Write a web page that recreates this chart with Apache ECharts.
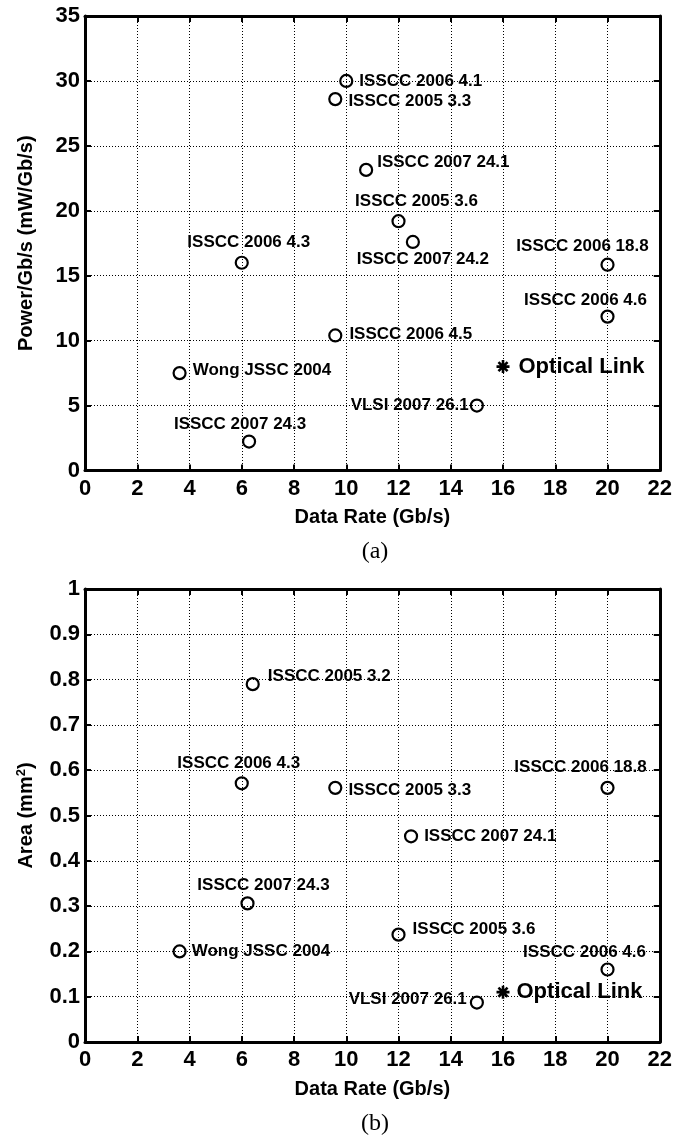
<!DOCTYPE html>
<html>
<head>
<meta charset="utf-8">
<script src="https://cdn.jsdelivr.net/npm/echarts@6/dist/echarts.min.js"></script>
<style>
html,body{margin:0;padding:0;background:#fff;}
#c{width:675px;height:1139px;}
</style>
</head>
<body>
<div id="c"></div>
<script>
// ---------- data ----------
var xTicks = [0, 2, 4, 6, 8, 10, 12, 14, 16, 18, 20, 22];

// (a) Power per Gb/s
var powerNames = ['ISSCC 2006 4.1', 'ISSCC 2005 3.3', 'ISSCC 2007 24.1', 'ISSCC 2005 3.6',
  'ISSCC 2007 24.2', 'ISSCC 2006 18.8', 'ISSCC 2006 4.3', 'ISSCC 2006 4.6',
  'ISSCC 2006 4.5', 'Wong JSSC 2004', 'ISSCC 2007 24.3', 'VLSI 2007 26.1'];
var powerRate = [10, 9.58, 10.76, 12, 12.55, 20, 6, 20, 9.58, 3.62, 6.28, 15];
var powerValue = [30, 28.6, 23.15, 19.2, 17.6, 15.85, 16, 11.85, 10.4, 7.5, 2.23, 5.0];
var powerOptical = [16, 8];

// (b) Area
var areaNames = ['ISSCC 2005 3.2', 'ISSCC 2006 4.3', 'ISSCC 2005 3.3', 'ISSCC 2006 18.8',
  'ISSCC 2007 24.1', 'ISSCC 2007 24.3', 'Wong JSSC 2004', 'ISSCC 2005 3.6',
  'ISSCC 2006 4.6', 'VLSI 2007 26.1'];
var areaRate = [6.42, 6, 9.58, 20, 12.48, 6.22, 3.62, 12, 20, 15];
var areaValue = [0.79, 0.571, 0.561, 0.561, 0.454, 0.306, 0.2, 0.237, 0.16, 0.087];
var areaOptical = [16, 0.11];

var opticalName = 'Optical Link';

// ---------- label placement (style, not data) ----------
var powerLabelPos = [
  ['right', 6, [0, 0]], ['right', 6, [0, 2]], ['right', 4, [0, -8]], ['top', 4, [18, 0]],
  ['bottom', 2, [10, 0]], ['top', 3, [-25, 0]], ['top', 5, [7, 0]], ['top', 1, [-22, 0]],
  ['right', 7, [0, -1]], ['right', 6, [0, -3]], ['top', 2, [-9, 0]], ['left', 1, [0, 0]]
];
var areaLabelPos = [
  ['right', 8, [0, -8]], ['top', 4, [-3, 0]], ['right', 6, [0, 2]], ['top', 5, [-27, 0]],
  ['right', 6, [0, 0]], ['top', 2, [16, 0]], ['right', 5, [0, 0]], ['right', 7, [0, -5]],
  ['top', 2, [-23, 0]], ['left', 3, [0, -3]]
];

var FONT = 'Liberation Sans, Arial, Helvetica, sans-serif';
var asteriskPath = 'path://M0,40L100,40L100,60L0,60Z M40,0L60,0L60,100L40,100Z ' +
  'M8,22L22,8L92,78L78,92Z M78,8L92,22L22,92L8,78Z';

function buildPoints(names, xs, ys, pos) {
  return names.map(function (n, i) {
    return {
      name: n,
      value: [xs[i], ys[i]],
      label: { position: pos[i][0], distance: pos[i][1], offset: pos[i][2] }
    };
  });
}

var grids = [
  { left: 85, right: 15, top: 16, height: 454.5 },
  { left: 85, right: 15, top: 589, height: 453 }
];

function xAxes(gi, nameText) {
  return [
    {
      type: 'value', gridIndex: gi, position: 'bottom', min: 0, max: 22, interval: 2,
      name: nameText, nameLocation: 'middle', nameGap: 37,
      nameTextStyle: { fontFamily: FONT, fontWeight: 'bold', fontSize: 20, color: '#000' },
      axisLine: { show: true, onZero: false, lineStyle: { color: '#000', width: 3 } },
      axisTick: { show: true, inside: true, length: 6, lineStyle: { color: '#000', width: 2 } },
      axisLabel: { show: true, margin: 7, fontFamily: FONT, fontWeight: 'bold', fontSize: 22, color: '#000' },
      splitLine: { show: true, lineStyle: { color: '#000', width: 1, type: [1, 2] } }
    },
    {
      type: 'value', gridIndex: gi, position: 'top', min: 0, max: 22, interval: 2,
      axisLine: { show: true, onZero: false, lineStyle: { color: '#000', width: 3 } },
      axisTick: { show: true, inside: true, length: 6, lineStyle: { color: '#000', width: 2 } },
      axisLabel: { show: false },
      splitLine: { show: false }
    }
  ];
}

function yAxes(gi, max, interval, nameText, rich) {
  return [
    {
      type: 'value', gridIndex: gi, position: 'left', min: 0, max: max, interval: interval,
      name: nameText, nameLocation: 'middle', nameGap: 48,
      nameTextStyle: { fontFamily: FONT, fontWeight: 'bold', fontSize: 20, color: '#000', lineHeight: 22, rich: rich },
      axisLine: { show: true, onZero: false, lineStyle: { color: '#000', width: 3 } },
      axisTick: { show: true, inside: true, length: 6, lineStyle: { color: '#000', width: 2 } },
      axisLabel: { show: true, margin: 5, fontFamily: FONT, fontWeight: 'bold', fontSize: 22, color: '#000' },
      splitLine: { show: true, lineStyle: { color: '#000', width: 1, type: [1, 2] } }
    },
    {
      type: 'value', gridIndex: gi, position: 'right', min: 0, max: max, interval: interval,
      axisLine: { show: true, onZero: false, lineStyle: { color: '#000', width: 3 } },
      axisTick: { show: true, inside: true, length: 6, lineStyle: { color: '#000', width: 2 } },
      axisLabel: { show: false },
      splitLine: { show: false }
    }
  ];
}

var circleLabel = {
  show: true, formatter: '{b}', fontFamily: FONT, fontWeight: 'bold', fontSize: 17, color: '#000', opacity: 1
};
var opticalLabel = {
  show: true, formatter: '{b}', position: 'right', fontFamily: FONT, fontWeight: 'bold', fontSize: 22, color: '#000', opacity: 1
};

var supRich = { sup: { fontFamily: FONT, fontWeight: 'bold', fontSize: 13, color: '#000', lineHeight: 10, verticalAlign: 'top' } };

var circleStyle = { color: 'rgba(0,0,0,0)', borderColor: '#000', borderWidth: 2.2, opacity: 1 };

var option = {
  animation: false,
  backgroundColor: '#fff',
  grid: grids,
  xAxis: xAxes(0, 'Data Rate (Gb/s)').concat(xAxes(1, 'Data Rate (Gb/s)')),
  yAxis: yAxes(0, 35, 5, 'Power/Gb/s (mW/Gb/s)', {}).concat(yAxes(1, 1, 0.1, 'Area (mm{sup|2})', supRich)),
  series: [
    {
      type: 'scatter', xAxisIndex: 0, yAxisIndex: 0, symbol: 'circle', symbolSize: 12,
      itemStyle: circleStyle,
      label: circleLabel,
      data: buildPoints(powerNames, powerRate, powerValue, powerLabelPos)
    },
    {
      type: 'scatter', xAxisIndex: 0, yAxisIndex: 0, symbol: asteriskPath, symbolSize: 13,
      itemStyle: { color: '#000', opacity: 1 },
      label: Object.assign({}, opticalLabel, { distance: 9 }),
      data: [{ name: opticalName, value: powerOptical }]
    },
    {
      type: 'scatter', xAxisIndex: 2, yAxisIndex: 2, symbol: 'circle', symbolSize: 12,
      itemStyle: circleStyle,
      label: circleLabel,
      data: buildPoints(areaNames, areaRate, areaValue, areaLabelPos)
    },
    {
      type: 'scatter', xAxisIndex: 2, yAxisIndex: 2, symbol: asteriskPath, symbolSize: 13,
      itemStyle: { color: '#000', opacity: 1 },
      label: Object.assign({}, opticalLabel, { distance: 7 }),
      data: [{ name: opticalName, value: areaOptical }]
    }
  ],
  graphic: [
    { type: 'text', x: 375, y: 552, style: { text: '(a)', fontFamily: 'Liberation Serif, Times New Roman, serif', fontSize: 24, fill: '#000', textAlign: 'center', textVerticalAlign: 'middle' } },
    { type: 'text', x: 375, y: 1124, style: { text: '(b)', fontFamily: 'Liberation Serif, Times New Roman, serif', fontSize: 24, fill: '#000', textAlign: 'center', textVerticalAlign: 'middle' } }
  ]
};

var chart = echarts.init(document.getElementById('c'), null, { renderer: 'canvas' });
chart.setOption(option);
</script>
</body>
</html>
